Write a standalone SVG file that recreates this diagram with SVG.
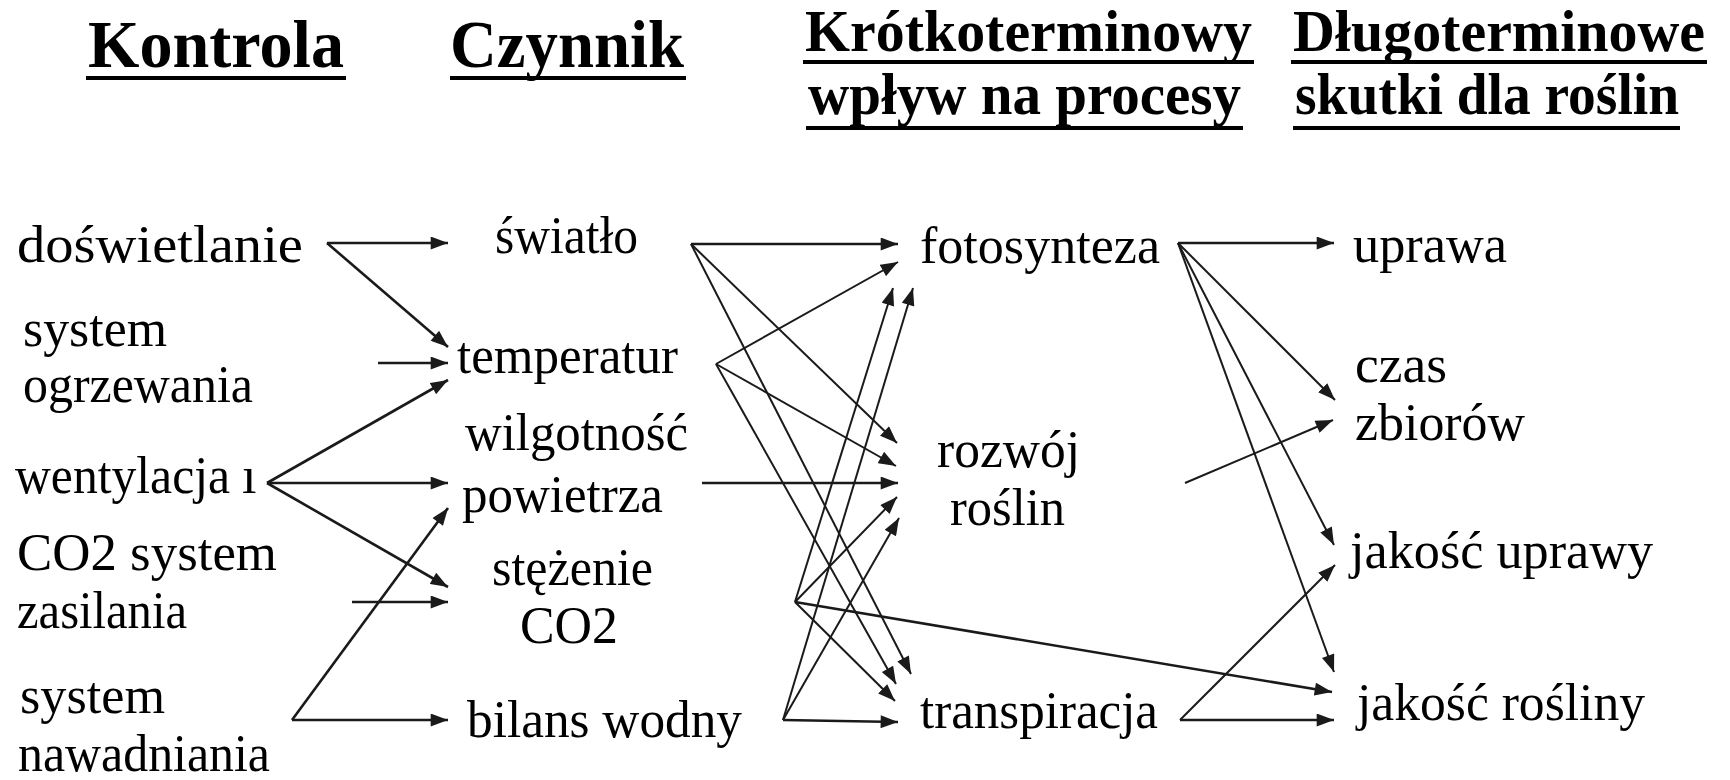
<svg xmlns="http://www.w3.org/2000/svg" width="1730" height="780" viewBox="0 0 1730 780">
<defs>
<style>
.h{font-family:"Liberation Serif","Times New Roman",serif;font-weight:bold;fill:#000}
.t{font-family:"Liberation Serif","Times New Roman",serif;font-size:52px;fill:#000}
.ul{stroke:#000;stroke-width:4}
.e{stroke:#1a1a1a;stroke-width:2.6;fill:none;marker-end:url(#ah)}
.m{stroke-width:2}
</style>
<marker id="ah" viewBox="0 0 16 12" refX="16" refY="6" markerWidth="18" markerHeight="13" markerUnits="userSpaceOnUse" orient="auto">
<path d="M0,0 L16,6 L0,12 z" fill="#1a1a1a"/>
</marker>
</defs>
<rect width="1730" height="780" fill="#fff"/>

<g id="headers">
<g id="h-kontrola"><text class="h" x="88" y="67" font-size="68" textLength="256" lengthAdjust="spacingAndGlyphs">Kontrola</text><line class="ul" x1="86" y1="78" x2="346" y2="78"/></g>
<g id="h-czynnik"><text class="h" x="450" y="67" font-size="68" textLength="234" lengthAdjust="spacingAndGlyphs">Czynnik</text><line class="ul" x1="450" y1="78" x2="686" y2="78"/></g>
<g id="h-krotko"><text class="h" x="805" y="51" font-size="59" textLength="447" lengthAdjust="spacingAndGlyphs">Krótkoterminowy</text><line class="ul" x1="803" y1="62" x2="1254" y2="62"/>
<text class="h" x="808" y="114" font-size="59" textLength="433" lengthAdjust="spacingAndGlyphs">wpływ na procesy</text><line class="ul" x1="806" y1="128" x2="1243" y2="128"/></g>
<g id="h-dlugo"><text class="h" x="1293" y="51" font-size="59" textLength="412" lengthAdjust="spacingAndGlyphs">Długoterminowe</text><line class="ul" x1="1291" y1="62" x2="1707" y2="62"/>
<text class="h" x="1295" y="114" font-size="59" textLength="384" lengthAdjust="spacingAndGlyphs">skutki dla roślin</text><line class="ul" x1="1293" y1="128" x2="1680" y2="128"/></g>
</g>

<g id="n-doswietlanie"><text class="t" x="17" y="262" textLength="286" lengthAdjust="spacingAndGlyphs">doświetlanie</text></g>
<g id="n-ogrzewanie"><text class="t" x="23" y="346" textLength="144" lengthAdjust="spacingAndGlyphs">system</text><text class="t" x="23" y="402" textLength="230" lengthAdjust="spacingAndGlyphs">ogrzewania</text></g>
<g id="n-wentylacja"><text class="t" x="15" y="493" textLength="215" lengthAdjust="spacingAndGlyphs">wentylacja</text><text class="t" x="242" y="493" font-size="40">ı</text></g>
<g id="n-co2system"><text class="t" x="17" y="570" textLength="260" lengthAdjust="spacingAndGlyphs">CO2 system</text><text class="t" x="17" y="628" textLength="170" lengthAdjust="spacingAndGlyphs">zasilania</text></g>
<g id="n-nawadnianie"><text class="t" x="20" y="713" textLength="145" lengthAdjust="spacingAndGlyphs">system</text><text class="t" x="18" y="771" textLength="252" lengthAdjust="spacingAndGlyphs">nawadniania</text></g>

<g id="n-swiatlo"><text class="t" x="495" y="253" textLength="143" lengthAdjust="spacingAndGlyphs">światło</text></g>
<g id="n-temperatura"><text class="t" x="457" y="373" textLength="221" lengthAdjust="spacingAndGlyphs">temperatur</text></g>
<g id="n-wilgotnosc"><text class="t" x="465" y="450" textLength="223" lengthAdjust="spacingAndGlyphs">wilgotność</text><text class="t" x="462" y="512" textLength="201" lengthAdjust="spacingAndGlyphs">powietrza</text></g>
<g id="n-stezenie"><text class="t" x="492" y="585" textLength="161" lengthAdjust="spacingAndGlyphs">stężenie</text><text class="t" x="520" y="643" textLength="98" lengthAdjust="spacingAndGlyphs">CO2</text></g>
<g id="n-bilans"><text class="t" x="467" y="737" textLength="275" lengthAdjust="spacingAndGlyphs">bilans wodny</text></g>

<g id="n-fotosynteza"><text class="t" x="920" y="263" textLength="240" lengthAdjust="spacingAndGlyphs">fotosynteza</text></g>
<g id="n-rozwoj"><text class="t" x="937" y="467" textLength="143" lengthAdjust="spacingAndGlyphs">rozwój</text><text class="t" x="950" y="525" textLength="115" lengthAdjust="spacingAndGlyphs">roślin</text></g>
<g id="n-transpiracja"><text class="t" x="920" y="728" textLength="238" lengthAdjust="spacingAndGlyphs">transpiracja</text></g>

<g id="n-uprawa"><text class="t" x="1353" y="262" textLength="154" lengthAdjust="spacingAndGlyphs">uprawa</text></g>
<g id="n-czas"><text class="t" x="1355" y="382" textLength="92" lengthAdjust="spacingAndGlyphs">czas</text><text class="t" x="1355" y="440" textLength="170" lengthAdjust="spacingAndGlyphs">zbiorów</text></g>
<g id="n-jakosc-uprawy"><text class="t" x="1350" y="568" textLength="303" lengthAdjust="spacingAndGlyphs">jakość uprawy</text></g>
<g id="n-jakosc-rosliny"><text class="t" x="1357" y="720" textLength="288" lengthAdjust="spacingAndGlyphs">jakość rośliny</text></g>

<g id="connectors">
<line class="e" x1="327" y1="243" x2="448" y2="243"/>
<line class="e" x1="327" y1="243" x2="448" y2="347"/>
<line class="e" x1="378" y1="363" x2="448" y2="363"/>
<line class="e" x1="267" y1="483" x2="448" y2="380"/>
<line class="e" x1="267" y1="483" x2="448" y2="483"/>
<line class="e" x1="267" y1="483" x2="448" y2="587"/>
<line class="e" x1="352" y1="602" x2="448" y2="602"/>
<line class="e" x1="292" y1="720" x2="448" y2="720"/>
<line class="e" x1="292" y1="720" x2="448" y2="508"/>

<line class="e" x1="691" y1="244" x2="898" y2="244"/>
<line class="e m" x1="691" y1="244" x2="897" y2="443"/>
<line class="e m" x1="691" y1="244" x2="911" y2="674"/>
<line class="e m" x1="716" y1="364" x2="898" y2="262"/>
<line class="e m" x1="716" y1="364" x2="896" y2="466"/>
<line class="e m" x1="716" y1="364" x2="896" y2="684"/>
<line class="e" x1="702" y1="483" x2="898" y2="483"/>
<line class="e m" x1="795" y1="602" x2="893" y2="288"/>
<line class="e m" x1="795" y1="602" x2="897" y2="497"/>
<line class="e m" x1="795" y1="602" x2="895" y2="701"/>
<line class="e" x1="795" y1="602" x2="1332" y2="692"/>
<line class="e m" x1="783" y1="720" x2="913" y2="288"/>
<line class="e m" x1="783" y1="720" x2="899" y2="518"/>
<line class="e" x1="783" y1="720" x2="898" y2="722"/>

<line class="e" x1="1178" y1="243" x2="1334" y2="243"/>
<line class="e m" x1="1178" y1="243" x2="1335" y2="400"/>
<line class="e m" x1="1178" y1="243" x2="1334" y2="545"/>
<line class="e m" x1="1178" y1="243" x2="1334" y2="672"/>
<line class="e m" x1="1185" y1="483" x2="1333" y2="420"/>
<line class="e" x1="1180" y1="720" x2="1334" y2="720"/>
<line class="e m" x1="1180" y1="720" x2="1335" y2="565"/>
</g>
</svg>
